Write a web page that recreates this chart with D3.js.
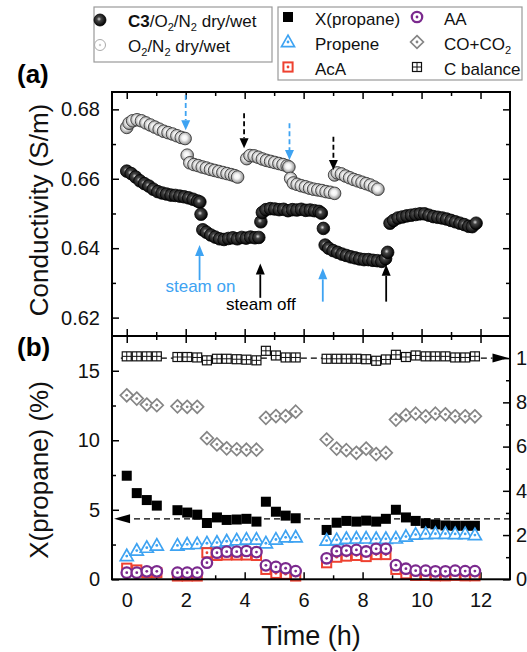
<!DOCTYPE html>
<html>
<head>
<meta charset="utf-8">
<script src="https://cdn.jsdelivr.net/npm/d3@7"></script>
<style>
  body { margin: 0; background: #fff; }
  text { font-family: "Liberation Sans", Arial, sans-serif; }
</style>
</head>
<body>
<svg id="chart" width="527" height="652"></svg>
<script>
// ---- panel (a): conductivity, [time h, S/m]
const c3Points = [
  [0.00,0.6622],[0.15,0.6615],[0.30,0.6605],[0.45,0.6594],[0.60,0.6586],[0.75,0.6579],[0.90,0.6570],
  [1.05,0.6563],[1.20,0.6559],[1.35,0.6556],[1.50,0.6553],[1.65,0.6552],[1.80,0.6550],[1.95,0.6548],
  [2.10,0.6545],[2.25,0.6541],[2.40,0.6536],[2.48,0.6533],
  [2.52,0.6498],
  [2.58,0.6453],[2.70,0.6446],[2.85,0.6438],[3.00,0.6432],[3.15,0.6427],[3.30,0.6425],[3.45,0.6428],
  [3.60,0.6430],[3.75,0.6427],[3.90,0.6431],[4.05,0.6429],[4.20,0.6432],[4.35,0.6430],[4.48,0.6431],
  [4.55,0.6476],
  [4.60,0.6503],[4.72,0.6511],[4.87,0.6514],[5.02,0.6513],[5.17,0.6511],[5.32,0.6512],[5.47,0.6508],
  [5.62,0.6511],[5.77,0.6510],[5.92,0.6512],[6.07,0.6509],[6.22,0.6510],[6.37,0.6508],[6.52,0.6506],[6.60,0.6501],
  [6.67,0.6457],
  [6.73,0.6409],[6.85,0.6400],[7.00,0.6393],[7.15,0.6388],[7.30,0.6383],[7.45,0.6379],[7.60,0.6375],
  [7.75,0.6372],[7.90,0.6369],[8.05,0.6367],[8.20,0.6367],[8.35,0.6365],[8.50,0.6364],[8.65,0.6362],
  [8.78,0.6370],[8.85,0.6388],
  [8.93,0.6472],[9.05,0.6480],[9.20,0.6487],[9.35,0.6490],[9.50,0.6493],[9.65,0.6495],[9.80,0.6497],
  [9.95,0.6499],[10.10,0.6499],[10.25,0.6495],[10.40,0.6491],[10.55,0.6489],[10.70,0.6487],[10.85,0.6484],
  [11.00,0.6480],[11.15,0.6476],[11.30,0.6472],[11.45,0.6468],[11.60,0.6463],[11.72,0.6462],[11.85,0.6472]
];
const on2Points = [
  [0.00,0.6748],[0.08,0.6760],[0.20,0.6767],[0.35,0.6770],[0.50,0.6767],[0.65,0.6761],[0.80,0.6755],
  [0.95,0.6749],[1.10,0.6743],[1.25,0.6737],[1.40,0.6733],[1.55,0.6729],[1.70,0.6724],[1.85,0.6719],[1.98,0.6716],
  [2.05,0.6668],[2.14,0.6646],[2.28,0.6641],[2.42,0.6638],[2.56,0.6634],[2.70,0.6631],[2.84,0.6627],
  [2.98,0.6624],[3.12,0.6621],[3.26,0.6618],[3.40,0.6615],[3.54,0.6612],[3.66,0.6609],[3.76,0.6605],
  [4.07,0.6658],[4.18,0.6667],[4.32,0.6666],[4.46,0.6662],[4.60,0.6657],[4.74,0.6653],[4.88,0.6650],
  [5.02,0.6647],[5.16,0.6644],[5.30,0.6641],[5.44,0.6637],[5.50,0.6634],
  [5.56,0.6601],[5.65,0.6588],[5.78,0.6584],[5.92,0.6580],[6.06,0.6577],[6.20,0.6573],[6.34,0.6570],
  [6.48,0.6568],[6.62,0.6566],[6.76,0.6563],[6.90,0.6561],[7.05,0.6558],
  [7.05,0.6611],[7.14,0.6617],[7.28,0.6614],[7.42,0.6608],[7.56,0.6603],[7.70,0.6598],[7.84,0.6594],
  [7.98,0.6590],[8.12,0.6586],[8.26,0.6582],[8.40,0.6576],[8.52,0.6570]
];
// dashed arrows (reference gas switch): [time, from, to, kind]
const switchArrows = [[2.00,0.6841,0.6740,'on'],[3.98,0.6789,0.6688,'off'],[5.52,0.6760,0.6654,'on'],[7.01,0.6721,0.6625,'off']];
// solid arrows (C3 feed): [time, from, to, kind]
const steamArrows = [[2.47,0.6308,0.6409,'on'],[4.53,0.6257,0.6356,'off'],[6.65,0.6246,0.6342,'on'],[8.80,0.6246,0.6352,'off']];
const steamLabels = [[2.50,0.6275,'steam on','on'],[4.55,0.6222,'steam off','off']];

// ---- panel (b): catalytic data
const tB = [0.00,0.34,0.68,1.02, 1.72,2.05,2.39,2.72,3.06,3.39,3.73,4.06,4.40, 4.72,5.06,5.39,5.73,
            6.78,7.12,7.45,7.79,8.12,8.46,8.79, 9.13,9.47,9.80,10.14,10.47,10.81,11.14,11.48,11.81];
const xPropane = [7.45,6.20,5.70,5.30, 4.97,4.80,4.65,4.05,4.45,4.27,4.30,4.35,4.15, 5.58,4.86,4.58,4.39,
                  3.55,4.07,4.20,4.15,4.22,4.15,4.35, 5.00,4.45,4.20,4.03,3.95,3.87,3.85,3.85,3.85];
const propene = [10.5,13.0,14.3,15.3, 15.3,15.8,16.0,16.3,16.6,17.2,17.7,18.0,18.0, 16.3,18.0,19.0,19.0,
                 17.5,17.8,18.3,18.5,18.5,18.3,18.3, 18.5,19.3,20.2,20.5,20.6,20.6,20.5,20.5,20.0];
const acA = [5.0,4.2,3.0,3.0, 1.5,1.5,1.5,12.0,10.8,11.0,11.0,11.0,10.8, 4.5,2.7,2.3,1.5,
             7.5,10.0,10.5,10.8,10.3,11.2,11.2, 4.5,2.5,1.8,1.8,1.6,1.6,1.8,1.6,1.6];
const aa = [3.0,3.0,3.6,3.6, 3.0,3.0,3.0,7.5,12.0,12.5,12.5,12.8,12.3, 6.3,5.6,5.0,3.7,
            9.5,12.7,13.0,13.3,12.6,13.8,13.8, 6.4,4.8,3.9,3.9,3.6,3.6,3.9,3.7,3.7];
const coCo2 = [83.2,81.7,79.0,78.7, 78.2,78.0,78.0,63.8,61.0,59.2,58.8,58.6,58.6, 73.0,73.8,73.8,75.8,
               63.2,59.1,58.4,57.2,59.1,56.6,57.2, 72.2,74.2,74.9,73.7,74.9,74.6,73.7,73.7,73.7];
const cBalance = [100.8,100.8,100.8,100.8, 100.5,100.5,100.3,99.0,99.7,99.7,99.5,99.3,99.0, 103.3,101.2,100.3,100.3,
                  99.7,99.7,99.7,99.7,99.5,98.8,99.4, 101.5,100.5,101.2,100.8,100.8,100.8,100.3,100.3,100.8];
const xGuide = 4.35;   // left axis
const cGuide = 100;    // right axis

// ticks
const condMajor = [0.62,0.64,0.66,0.68], condMinor = [0.63,0.65,0.67];
const timeMajor = [0,2,4,6,8,10,12], timeMinor = [1,3,5,7,9,11];
const xpMajor = [0,5,10,15], xpMinor = [2.5,7.5,12.5];
const selMajor = [0,20,40,60,80,100], selMinor = [10,30,50,70,90];

// ---- layout
const svg = d3.select('#chart');
const left = 112, right = 510, topA = 92, mid = 336, bot = 579.3;
const blue = '#3ea3f2', red = '#ee4130', purple = '#7b2a8e', grey = '#858585';
const kindColor = k => k === 'on' ? blue : '#000';

const x = d3.scaleLinear().domain([-0.5, 13]).range([left, right]);
const yA = d3.scaleLinear().domain([0.6147, 0.685]).range([mid, topA]);
const yB = d3.scaleLinear().domain([0, 17.5]).range([bot, mid]);
const yR = d3.scaleLinear().domain([0, 110]).range([bot, mid]);

svg.append('rect').attr('width', 527).attr('height', 652).attr('fill', '#fff');

const defs = svg.append('defs');
const ball = defs.append('radialGradient').attr('id', 'ball').attr('cx', '42%').attr('cy', '42%').attr('r', '60%');
ball.append('stop').attr('offset', '0%').attr('stop-color', '#d8d8d8');
ball.append('stop').attr('offset', '30%').attr('stop-color', '#444');
ball.append('stop').attr('offset', '100%').attr('stop-color', '#000');
const ring = defs.append('radialGradient').attr('id', 'ring').attr('cx', '45%').attr('cy', '45%').attr('r', '60%');
ring.append('stop').attr('offset', '0%').attr('stop-color', '#fff');
ring.append('stop').attr('offset', '35%').attr('stop-color', '#f2f2f2');
ring.append('stop').attr('offset', '75%').attr('stop-color', '#a8a8a8');
ring.append('stop').attr('offset', '100%').attr('stop-color', '#5c5c5c');

function styleAxis(g) {
  g.select('.domain').remove();
  g.selectAll('line').attr('stroke', '#000').attr('stroke-width', 1.5);
  g.selectAll('text').attr('font-size', 20).attr('fill', '#111')
    .attr('font-family', '"Liberation Sans", Arial, sans-serif');
}
function addAxis(gen, tx, ty) {
  svg.append('g').attr('transform', `translate(${tx},${ty})`).call(gen).call(styleAxis);
}
const noLab = () => '';

// panel (a) axes
addAxis(d3.axisLeft(yA).tickValues(condMajor).tickFormat(d3.format('.2f')).tickSize(-7).tickPadding(12), left, 0);
addAxis(d3.axisLeft(yA).tickValues(condMinor).tickFormat(noLab).tickSize(-4), left, 0);
addAxis(d3.axisRight(yA).tickValues(condMajor).tickFormat(noLab).tickSize(-7), right, 0);
addAxis(d3.axisRight(yA).tickValues(condMinor).tickFormat(noLab).tickSize(-4), right, 0);
addAxis(d3.axisTop(x).tickValues(timeMajor).tickFormat(noLab).tickSize(-7), 0, topA);
addAxis(d3.axisTop(x).tickValues(timeMinor).tickFormat(noLab).tickSize(-4), 0, topA);
addAxis(d3.axisBottom(x).tickValues(timeMajor).tickFormat(noLab).tickSize(-7), 0, mid);
addAxis(d3.axisBottom(x).tickValues(timeMinor).tickFormat(noLab).tickSize(-4), 0, mid);
// panel (b) axes
addAxis(d3.axisTop(x).tickValues(timeMajor).tickFormat(noLab).tickSize(-7), 0, mid);
addAxis(d3.axisTop(x).tickValues(timeMinor).tickFormat(noLab).tickSize(-4), 0, mid);
addAxis(d3.axisBottom(x).tickValues(timeMajor).tickSize(-7).tickPadding(14), 0, bot);
addAxis(d3.axisBottom(x).tickValues(timeMinor).tickFormat(noLab).tickSize(-4), 0, bot);
addAxis(d3.axisLeft(yB).tickValues(xpMajor).tickSize(-7).tickPadding(12), left, 0);
addAxis(d3.axisLeft(yB).tickValues(xpMinor).tickFormat(noLab).tickSize(-4), left, 0);
addAxis(d3.axisRight(yR).tickValues(selMajor).tickSize(-7).tickPadding(6), right, 0);
addAxis(d3.axisRight(yR).tickValues(selMinor).tickFormat(noLab).tickSize(-4), right, 0);

function arrow(g, x0, y0, x1, y1, color, dash, headLen, headW, width) {
  const L = Math.hypot(x1 - x0, y1 - y0), ux = (x1 - x0) / L, uy = (y1 - y0) / L;
  const bx = x1 - ux * headLen, by = y1 - uy * headLen;
  g.append('line').attr('x1', x0).attr('y1', y0).attr('x2', bx).attr('y2', by)
    .attr('stroke', color).attr('stroke-width', width).attr('stroke-dasharray', dash);
  g.append('path')
    .attr('d', `M${x1},${y1}L${bx - uy * headW},${by + ux * headW}L${bx + uy * headW},${by - ux * headW}Z`)
    .attr('fill', color);
}

// ---- panel (a) marks
const pa = svg.append('g');
pa.selectAll('circle.on2').data(on2Points).join('circle').attr('class', 'on2')
  .attr('cx', d => x(d[0])).attr('cy', d => yA(d[1])).attr('r', 6.3)
  .attr('fill', 'url(#ring)').attr('stroke', '#3a3a3a').attr('stroke-width', 0.9);
pa.selectAll('circle.c3').data(c3Points).join('circle').attr('class', 'c3')
  .attr('cx', d => x(d[0])).attr('cy', d => yA(d[1])).attr('r', 6.3)
  .attr('fill', 'url(#ball)').attr('stroke', '#000').attr('stroke-width', 0.8);

switchArrows.forEach(d => arrow(pa, x(d[0]), yA(d[1]), x(d[0]), yA(d[2]), kindColor(d[3]), '5,3', 10, 4.5, 1.8));
steamArrows.forEach(d => arrow(pa, x(d[0]), yA(d[1]), x(d[0]), yA(d[2]), kindColor(d[3]), null, 11, 4.5, 1.8));
pa.selectAll('text.steam').data(steamLabels).join('text').attr('class', 'steam')
  .attr('x', d => x(d[0])).attr('y', d => yA(d[1])).attr('text-anchor', 'middle')
  .attr('font-size', 17).attr('fill', d => kindColor(d[3])).text(d => d[2]);

// ---- panel (b) marks
const pb = svg.append('g');
arrow(pb, x(13), yB(xGuide), x(-0.43), yB(xGuide), '#000', '6,4', 16, 4.5, 1.3);
arrow(pb, x(-0.2), yR(cGuide), x(12.95), yR(cGuide), '#000', '6,4', 16, 4.5, 1.3);

function dot(g, c) { g.append('circle').attr('r', 1.4).attr('fill', c); }
const markers = {
  xprop: g => g.append('rect').attr('x', -5).attr('y', -5).attr('width', 10).attr('height', 10).attr('fill', '#000'),
  propene: g => {
    g.append('path').attr('d', 'M0,-6.8L6.5,4.6L-6.5,4.6Z').attr('fill', '#fff')
      .attr('stroke', blue).attr('stroke-width', 1.7).attr('stroke-linejoin', 'miter');
    dot(g, blue);
  },
  aca: g => {
    g.append('rect').attr('x', -4.6).attr('y', -4.6).attr('width', 9.2).attr('height', 9.2)
      .attr('fill', '#fff').attr('stroke', red).attr('stroke-width', 2);
    dot(g, red);
  },
  aa: g => {
    g.append('circle').attr('r', 5.2).attr('fill', '#fff').attr('stroke', purple).attr('stroke-width', 2.3);
    dot(g, purple);
  },
  cox: g => {
    g.append('path').attr('d', 'M0,-6.4L6.4,0L0,6.4L-6.4,0Z').attr('fill', '#fff')
      .attr('stroke', grey).attr('stroke-width', 1.7);
    dot(g, grey);
  },
  cbal: g => {
    g.append('rect').attr('x', -4.5).attr('y', -4.5).attr('width', 9).attr('height', 9)
      .attr('fill', '#fff').attr('stroke', '#111').attr('stroke-width', 1.2);
    g.append('path').attr('d', 'M0,-4.5V4.5M-4.5,0H4.5').attr('stroke', '#111').attr('stroke-width', 1);
  }
};
const seriesB = [
  {key: 'xprop', y: yB, values: xPropane},
  {key: 'propene', y: yR, values: propene},
  {key: 'aca', y: yR, values: acA},
  {key: 'aa', y: yR, values: aa},
  {key: 'cox', y: yR, values: coCo2},
  {key: 'cbal', y: yR, values: cBalance}
];
seriesB.forEach(s => {
  pb.selectAll(`g.${s.key}`).data(tB.map((t, i) => [t, s.values[i]])).join('g').attr('class', s.key)
    .attr('transform', d => `translate(${x(d[0])},${s.y(d[1])})`)
    .each(function () { markers[s.key](d3.select(this)); });
});

// frames
[[topA, mid], [mid, bot]].forEach(([a, b]) => {
  svg.append('rect').attr('x', left).attr('y', a).attr('width', right - left).attr('height', b - a)
    .attr('fill', 'none').attr('stroke', '#000').attr('stroke-width', 2);
});

// ---- titles
svg.append('text').attr('transform', 'translate(48,210) rotate(-90)').attr('text-anchor', 'middle')
  .attr('font-size', 26).attr('fill', '#111').text('Conductivity (S/m)');
svg.append('text').attr('transform', 'translate(48,470) rotate(-90)').attr('text-anchor', 'middle')
  .attr('font-size', 26).attr('fill', '#111').text('X(propane) (%)');
svg.append('text').attr('x', 311).attr('y', 645).attr('text-anchor', 'middle')
  .attr('font-size', 27).attr('fill', '#111').text('Time (h)');
svg.append('text').attr('x', 17).attr('y', 83).attr('font-size', 26).attr('font-weight', 'bold').text('(a)');
svg.append('text').attr('x', 17).attr('y', 356).attr('font-size', 26).attr('font-weight', 'bold').text('(b)');

// ---- legends
function rich(g, px, py, parts, size) {
  const t = g.append('text').attr('x', px).attr('y', py).attr('font-size', size).attr('fill', '#111');
  let shift = 0;
  parts.forEach(([s, st]) => {
    const sp = t.append('tspan').text(s);
    const want = st === 'sub' ? 4 : 0;
    if (want !== shift) { sp.attr('dy', want - shift); shift = want; }
    if (st === 'sub') sp.attr('font-size', size * 0.65);
    if (st === 'b') sp.attr('font-weight', 'bold');
  });
}
const lg = svg.append('g');
lg.append('rect').attr('x', 94).attr('y', 7).attr('width', 178).attr('height', 55)
  .attr('fill', '#fff').attr('stroke', '#9a9a9a').attr('stroke-width', 1.2);
lg.append('circle').attr('cx', 100).attr('cy', 20).attr('r', 6).attr('fill', 'url(#ball)').attr('stroke', '#000').attr('stroke-width', 0.8);
lg.append('circle').attr('cx', 100).attr('cy', 45).attr('r', 5.5).attr('fill', '#fff').attr('stroke', '#aaa').attr('stroke-width', 1);
lg.append('circle').attr('cx', 100).attr('cy', 45).attr('r', 1.2).attr('fill', '#ccc');
rich(lg, 128, 27, [['C3', 'b'], ['/O', ''], ['2', 'sub'], ['/N', ''], ['2', 'sub'], [' dry/wet', '']], 17);
rich(lg, 128, 52, [['O', ''], ['2', 'sub'], ['/N', ''], ['2', 'sub'], [' dry/wet', '']], 17);

lg.append('rect').attr('x', 278).attr('y', 7).attr('width', 244).attr('height', 73)
  .attr('fill', '#fff').attr('stroke', '#9a9a9a').attr('stroke-width', 1.2);
const legRows = [
  ['xprop', 288, 17, [['X(propane)', '']]],
  ['propene', 288, 42, [['Propene', '']]],
  ['aca', 288, 67, [['AcA', '']]],
  ['aa', 417, 17, [['AA', '']]],
  ['cox', 417, 42, [['CO+CO', ''], ['2', 'sub']]],
  ['cbal', 417, 67, [['C balance', '']]]
];
legRows.forEach(([k, mx, my, parts]) => {
  markers[k](lg.append('g').attr('transform', `translate(${mx},${my})`));
  rich(lg, mx + 27, my + 7.5, parts, 17);
});
</script>
</body>
</html>
